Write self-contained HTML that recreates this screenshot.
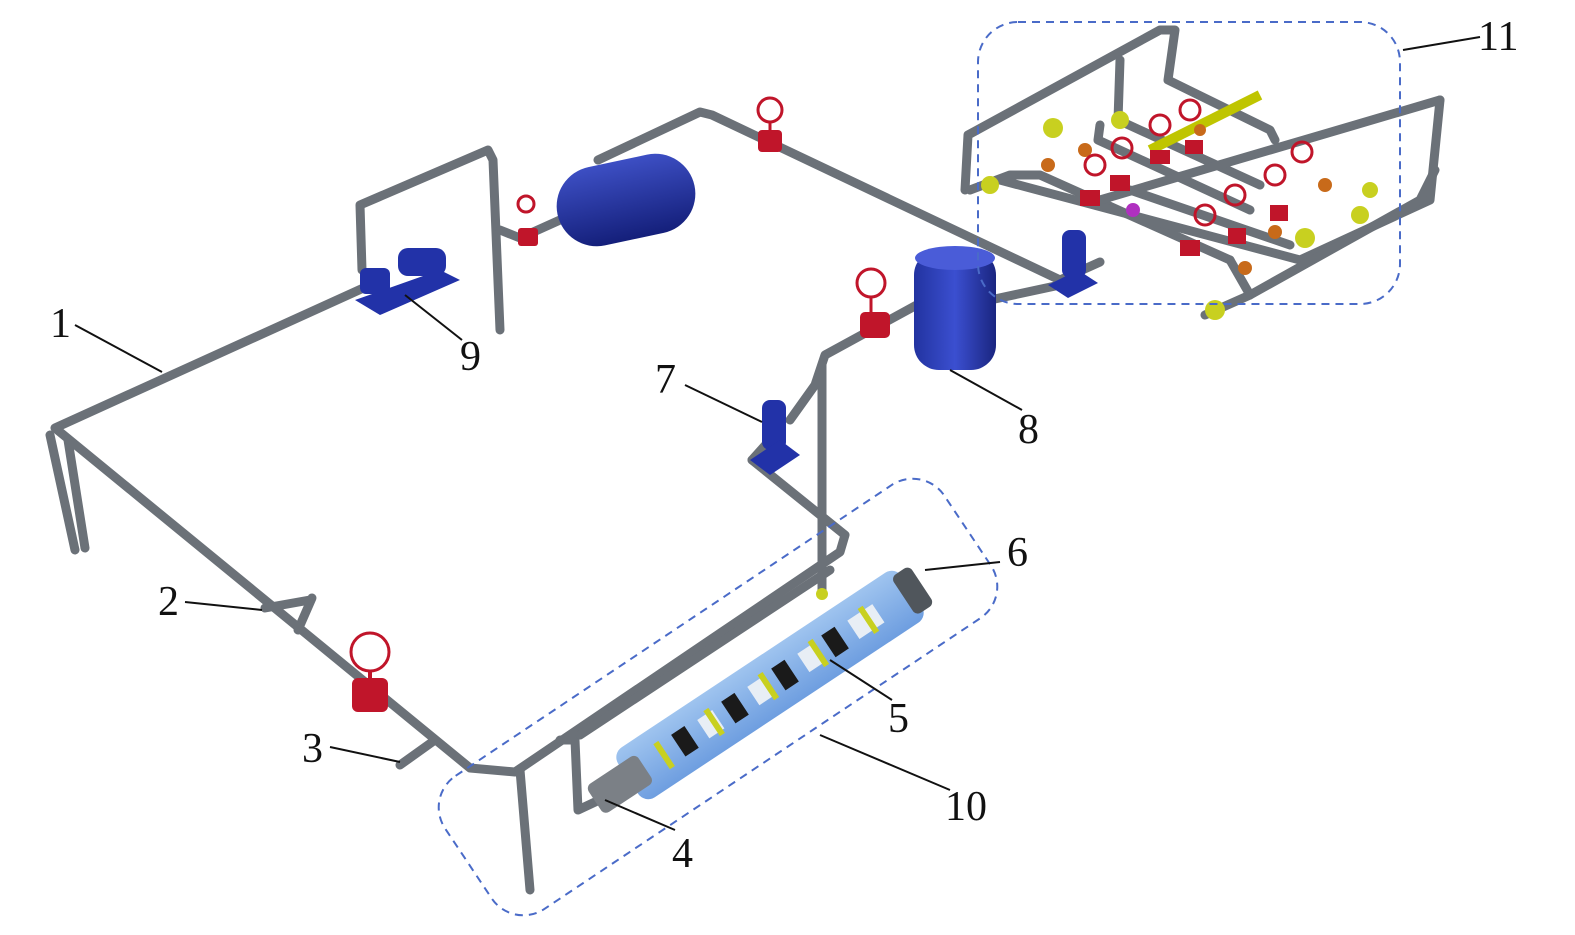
<!DOCTYPE html>
<html><head><meta charset="utf-8"><style>
html,body{margin:0;padding:0;background:#fff;}
svg{display:block;}
text{font-family:"Liberation Serif",serif;font-size:42px;fill:#111;}
</style></head><body>
<svg width="1575" height="935" viewBox="0 0 1575 935" xmlns="http://www.w3.org/2000/svg">
<defs>
<linearGradient id="tk" x1="0" y1="0" x2="0" y2="1"><stop offset="0" stop-color="#3d4fc4"/><stop offset="1" stop-color="#141f7a"/></linearGradient>
<linearGradient id="tk2" x1="0" y1="0" x2="1" y2="0"><stop offset="0" stop-color="#2233a0"/><stop offset=".5" stop-color="#3b4fd0"/><stop offset="1" stop-color="#1a2580"/></linearGradient>
<linearGradient id="cyl" x1="0" y1="0" x2="0" y2="1"><stop offset="0" stop-color="#9fc4ef"/><stop offset="1" stop-color="#6e9ee0"/></linearGradient>
</defs>
<g fill="none" stroke="#6b7178" stroke-width="9" stroke-linejoin="round" stroke-linecap="round">
<polyline points="370,285 55,428 470,768 515,772 840,552 845,535 752,460"/>
<polyline points="752,460 770,440"/>
<polyline points="790,420 815,385 825,355 935,295"/>
<line x1="822" y1="365" x2="822" y2="595"/>
<polyline points="560,740 575,740 578,810 610,795"/>
<polyline points="520,770 530,890"/>
<line x1="580" y1="735" x2="830" y2="570"/>
<line x1="50" y1="435" x2="75" y2="550"/>
<line x1="68" y1="440" x2="85" y2="548"/>
<polyline points="362,270 360,205 488,150 493,160 500,330"/>
<polyline points="500,230 520,238 560,220"/>
<polyline points="598,160 700,112 712,115 1060,280 1100,262"/>
<polyline points="990,300 1060,285"/>
<line x1="298" y1="630" x2="312" y2="598"/>
<line x1="265" y1="608" x2="310" y2="600"/>
<line x1="400" y1="765" x2="435" y2="740"/>
<polyline points="965,190 968,135 1160,30 1175,30 1168,80 1270,130 1275,140"/>
<polyline points="1120,60 1118,120 1260,185"/>
<polyline points="1100,125 1098,140 1250,210"/>
<polyline points="970,190 1010,175 1040,175 1230,260"/>
<polyline points="1000,180 1300,260 1430,200 1440,100"/>
<polyline points="1205,315 1250,295 1230,260"/>
<polyline points="1250,295 1420,200 1435,170"/>
<polyline points="1100,200 1440,100"/>
<polyline points="1130,190 1290,245"/>
</g>
<g stroke="#bfc500" stroke-width="10"><line x1="1150" y1="150" x2="1260" y2="95"/></g>
<g fill="#c8d020">
<circle cx="1053" cy="128" r="10"/><circle cx="1120" cy="120" r="9"/><circle cx="990" cy="185" r="9"/><circle cx="1215" cy="310" r="10"/><circle cx="1305" cy="238" r="10"/><circle cx="1360" cy="215" r="9"/><circle cx="1370" cy="190" r="8"/>
</g>
<g fill="#c86a1a">
<circle cx="1048" cy="165" r="7"/><circle cx="1085" cy="150" r="7"/><circle cx="1245" cy="268" r="7"/><circle cx="1275" cy="232" r="7"/><circle cx="1325" cy="185" r="7"/><circle cx="1200" cy="130" r="6"/>
</g>
<circle cx="1133" cy="210" r="7" fill="#b030c0"/>
<g fill="none" stroke="#c0152a" stroke-width="3">
<circle cx="1160" cy="125" r="10"/><circle cx="1190" cy="110" r="10"/><circle cx="1095" cy="165" r="10"/><circle cx="1122" cy="148" r="10"/><circle cx="1205" cy="215" r="10"/><circle cx="1235" cy="195" r="10"/><circle cx="1275" cy="175" r="10"/><circle cx="1302" cy="152" r="10"/>
<circle cx="770" cy="110" r="12"/><circle cx="526" cy="204" r="8"/><circle cx="871" cy="283" r="14"/><circle cx="370" cy="652" r="19"/>
</g>
<g fill="#c0152a">
<rect x="1080" y="190" width="20" height="16"/><rect x="1110" y="175" width="20" height="16"/><rect x="1180" y="240" width="20" height="16"/><rect x="1228" y="228" width="18" height="16"/><rect x="1270" y="205" width="18" height="16"/><rect x="1150" y="150" width="20" height="14"/><rect x="1185" y="140" width="18" height="14"/>
<rect x="758" y="130" width="24" height="22" rx="4"/><rect x="518" y="228" width="20" height="18" rx="3"/><rect x="860" y="312" width="30" height="26" rx="5"/><rect x="352" y="678" width="36" height="34" rx="6"/>
<line x1="770" y1="122" x2="770" y2="130" stroke="#c0152a" stroke-width="3"/><line x1="871" y1="297" x2="871" y2="312" stroke="#c0152a" stroke-width="3"/><line x1="370" y1="671" x2="370" y2="680" stroke="#c0152a" stroke-width="4"/>
</g>
<rect x="556" y="160" width="140" height="80" rx="40" fill="url(#tk)" transform="rotate(-12 626 200)"/>
<rect x="914" y="250" width="82" height="120" rx="25" fill="url(#tk2)"/>
<ellipse cx="955" cy="258" rx="40" ry="12" fill="#4a5cd8"/>
<g fill="#2232a8">
<polygon points="355,300 440,270 460,280 380,315"/>
<rect x="398" y="248" width="48" height="28" rx="10"/>
<rect x="360" y="268" width="30" height="26" rx="6"/>
<rect x="762" y="400" width="24" height="50" rx="8"/>
<polygon points="750,460 780,440 800,455 770,475"/>
<rect x="1062" y="230" width="24" height="48" rx="8"/>
<polygon points="1048,285 1078,270 1098,283 1068,298"/>
</g>
<g transform="rotate(-33.5 770 685)">
<rect x="600" y="655" width="340" height="60" rx="12" fill="url(#cyl)"/>
<rect x="560" y="668" width="60" height="34" rx="6" fill="#7b8086"/>
<rect x="930" y="662" width="22" height="46" rx="6" fill="#50565c"/>
<g fill="#1a1a1a"><rect x="660" y="672" width="16" height="26"/><rect x="720" y="672" width="16" height="26"/><rect x="780" y="672" width="16" height="26"/><rect x="840" y="672" width="16" height="26"/></g>
<g fill="#e8eef5"><rect x="690" y="674" width="18" height="22"/><rect x="750" y="674" width="18" height="22"/><rect x="810" y="674" width="18" height="22"/><rect x="870" y="674" width="30" height="22"/></g>
<g fill="#c8d020"><rect x="640" y="670" width="6" height="30"/><rect x="700" y="670" width="6" height="30"/><rect x="765" y="670" width="6" height="30"/><rect x="825" y="670" width="6" height="30"/><rect x="885" y="670" width="6" height="30"/></g>
</g>
<circle cx="822" cy="594" r="6" fill="#c8d020"/>
<g fill="none" stroke="#4a6bc8" stroke-width="2" stroke-dasharray="8,6">
<rect x="978" y="22" width="422" height="282" rx="40"/>
<rect x="418" y="617" width="600" height="160" rx="38" transform="rotate(-33.7 718 697)"/>
</g>
<g stroke="#111" stroke-width="2">
<line x1="75" y1="325" x2="162" y2="372"/>
<line x1="185" y1="602" x2="262" y2="610"/>
<line x1="330" y1="747" x2="400" y2="762"/>
<line x1="605" y1="800" x2="675" y2="830"/>
<line x1="830" y1="660" x2="892" y2="700"/>
<line x1="925" y1="570" x2="1000" y2="562"/>
<line x1="685" y1="385" x2="762" y2="422"/>
<line x1="950" y1="370" x2="1022" y2="410"/>
<line x1="405" y1="295" x2="462" y2="340"/>
<line x1="820" y1="735" x2="950" y2="790"/>
<line x1="1403" y1="50" x2="1480" y2="37"/>
</g>
<text x="50" y="337">1</text>
<text x="158" y="615">2</text>
<text x="302" y="762">3</text>
<text x="672" y="867">4</text>
<text x="888" y="732">5</text>
<text x="1007" y="566">6</text>
<text x="655" y="393">7</text>
<text x="1018" y="443">8</text>
<text x="460" y="370">9</text>
<text x="945" y="820">10</text>
<text x="1478" y="50">11</text>
</svg>
</body></html>
